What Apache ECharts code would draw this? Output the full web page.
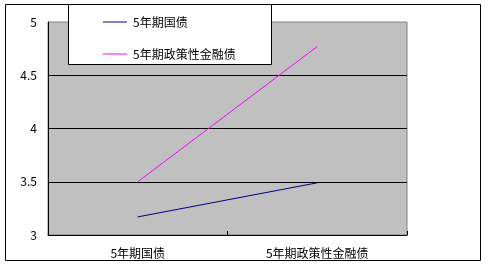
<!DOCTYPE html>
<html><head><meta charset="utf-8">
<script src="https://cdn.jsdelivr.net/npm/echarts@6/dist/echarts.min.js"></script>
<style>html,body{margin:0;padding:0;background:#fff}#c{width:488px;height:273px}</style>
</head><body><div id="c"></div>
<script>
const categories = ['5年期国债', '5年期政策性金融债'];
const seriesNames = ['5年期国债', '5年期政策性金融债'];
const treasury = [3.17, 3.49];
const policyBank = [3.5, 4.77];
const yTicks = [3, 3.5, 4, 4.5, 5];

const FONT = '"Noto Sans CJK SC", "DejaVu Sans", sans-serif';
const chart = echarts.init(document.getElementById('c'), null, {renderer: 'canvas'});
chart.setOption({
  animation: false,
  backgroundColor: '#fff',
  textStyle: {fontFamily: FONT},
  graphic: [
    {type: 'rect', shape: {x: 5.5, y: 4.5, width: 475, height: 256}, style: {fill: 'none', stroke: '#000', lineWidth: 1}, z: 0, silent: true},
    {type: 'rect', shape: {x: 68.5, y: 4.5, width: 203, height: 60}, style: {fill: '#fff', stroke: '#000', lineWidth: 1}, z: 5, silent: true}
  ],
  legend: {
    z: 6,
    orient: 'vertical',
    left: 103, top: 16,
    padding: 0,
    icon: 'rect',
    itemWidth: 24, itemHeight: 1,
    itemGap: 20,
    textStyle: {fontFamily: FONT, fontSize: 12, color: '#000', padding: [0, 0, 0, 1]},
    data: seriesNames
  },
  grid: {
    left: 48, top: 22, width: 359, height: 213,
    show: true, backgroundColor: '#c0c0c0', borderColor: '#808080', borderWidth: 1,
    containLabel: false
  },
  xAxis: {
    type: 'category', data: categories, boundaryGap: true,
    axisLine: {lineStyle: {color: '#000', width: 1}},
    axisTick: {show: true, inside: true, length: 4, lineStyle: {color: '#000'}},
    axisLabel: {color: '#000', fontSize: 12, margin: 12, fontFamily: FONT}
  },
  yAxis: {
    type: 'value', min: yTicks[0], max: yTicks[yTicks.length - 1], interval: 0.5,
    axisLine: {show: true, lineStyle: {color: '#000', width: 1}},
    axisTick: {show: false},
    axisLabel: {color: '#000', fontSize: 12, margin: 11, fontFamily: FONT},
    splitLine: {show: true, showMaxLine: false, showMinLine: false, lineStyle: {color: '#000', width: 1}}
  },
  series: [
    {name: seriesNames[0], type: 'line', data: treasury, symbol: 'none', lineStyle: {color: '#000080', width: 1}, itemStyle: {color: '#000080'}, z: 3},
    {name: seriesNames[1], type: 'line', data: policyBank, symbol: 'none', lineStyle: {color: '#ff00ff', width: 1}, itemStyle: {color: '#ff00ff'}, z: 3}
  ]
});
</script></body></html>
